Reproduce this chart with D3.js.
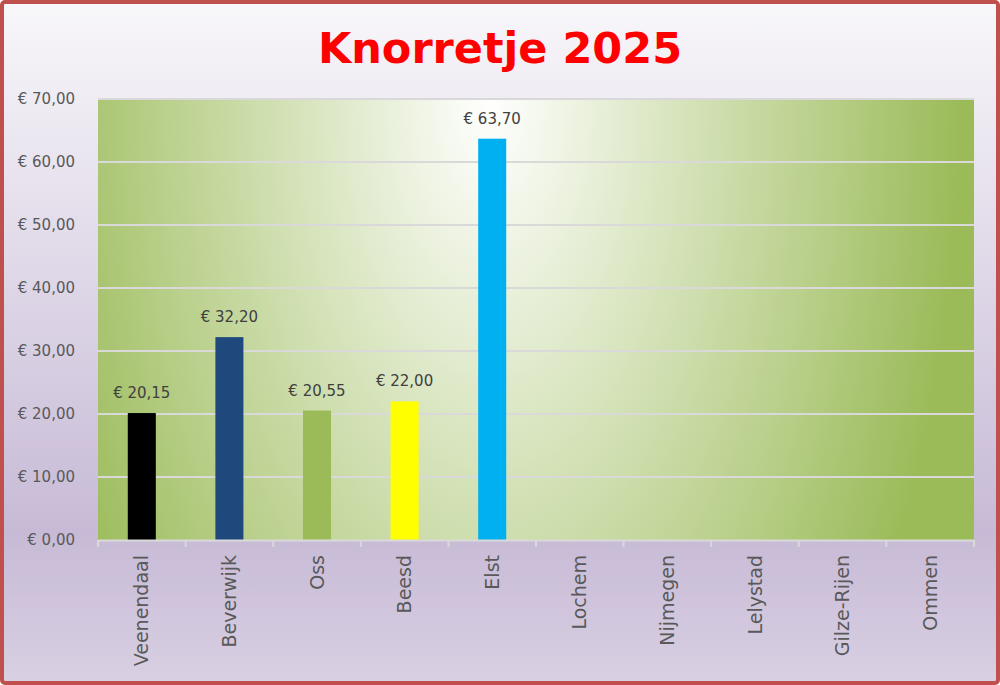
<!DOCTYPE html>
<html>
<head>
<meta charset="utf-8">
<script src="https://cdn.jsdelivr.net/npm/d3@7"></script>
<style>
  html, body { margin: 0; padding: 0; background: #fff; }
  svg { display: block; font-family: "DejaVu Sans", sans-serif; }
</style>
</head>
<body>
<svg width="1000" height="685"></svg>
<script>
var cities = ["Veenendaal", "Beverwijk", "Oss", "Beesd", "Elst", "Lochem", "Nijmegen", "Lelystad", "Gilze-Rijen", "Ommen"];
var amounts = [20.15, 32.20, 20.55, 22.00, 63.70, null, null, null, null, null];
var barColors = ["#000000", "#1f497d", "#9bbb59", "#ffff00", "#00b0f0", "#4f81bd", "#4f81bd", "#4f81bd", "#4f81bd", "#4f81bd"];
var yTicks = [0, 10, 20, 30, 40, 50, 60, 70];
var title = "Knorretje 2025";

var svg = d3.select("svg")
    , width = +svg.attr("width")
    , height = +svg.attr("height")
    , plot = {left: 98, right: 974, top: 99, bottom: 540};

var nl = d3.formatLocale({decimal: ",", thousands: ".", grouping: [3], currency: ["€ ", ""]});
var euro = nl.format("$.2f");

var defs = svg.append("defs");
var bg = defs.append("linearGradient").attr("id", "bg").attr("x1", 0).attr("y1", 0).attr("x2", 0).attr("y2", 1);
bg.append("stop").attr("offset", "0").attr("stop-color", "#f8f7fa");
bg.append("stop").attr("offset", "0.78").attr("stop-color", "#c7bad6");
bg.append("stop").attr("offset", "1").attr("stop-color", "#d9d0e3");

var pg = defs.append("radialGradient").attr("id", "plotbg")
    .attr("gradientUnits", "userSpaceOnUse")
    .attr("cx", 0).attr("cy", 0).attr("r", 1)
    .attr("gradientTransform", "translate(490," + plot.top + ") scale(470,900)");
pg.append("stop").attr("offset", "0").attr("stop-color", "#ffffff");
pg.append("stop").attr("offset", "1").attr("stop-color", "#9bbb59");

// background + border
svg.append("rect").attr("x", 2).attr("y", 2).attr("width", width - 4).attr("height", height - 4)
    .attr("rx", 3).attr("fill", "url(#bg)").attr("stroke", "#c0504d").attr("stroke-width", 4);

svg.append("text").attr("x", width / 2).attr("y", 63).attr("text-anchor", "middle")
    .attr("font-size", 43).attr("font-weight", "bold").attr("fill", "#ff0000").text(title);

var x = d3.scaleBand().domain(cities).range([plot.left, plot.right]).padding(0);
var y = d3.scaleLinear().domain([0, 70]).range([plot.bottom, plot.top]);

svg.append("rect").attr("x", plot.left).attr("y", plot.top)
    .attr("width", plot.right - plot.left).attr("height", plot.bottom - plot.top)
    .attr("fill", "url(#plotbg)");

// gridlines
svg.append("g").selectAll("line").data(yTicks.filter(function (d) { return d > 0; })).enter().append("line")
    .attr("x1", plot.left).attr("x2", plot.right)
    .attr("y1", function (d) { return y(d); }).attr("y2", function (d) { return y(d); })
    .attr("stroke", "#d9d9d9").attr("stroke-width", 2);

// y axis
var yAxis = svg.append("g").attr("transform", "translate(" + plot.left + ",0)")
    .call(d3.axisLeft(y).tickValues(yTicks).tickFormat(euro).tickSize(0).tickPadding(23));
yAxis.select(".domain").remove();
yAxis.selectAll("text").attr("font-family", "DejaVu Sans").attr("font-size", 15).attr("fill", "#595959");

// bars
var bw = x.bandwidth() * 0.32;
var data = cities.map(function (c, i) { return {city: c, value: amounts[i], color: barColors[i]}; })
    .filter(function (d) { return d.value != null; });

svg.append("g").selectAll("rect").data(data).enter().append("rect")
    .attr("x", function (d) { return x(d.city) + (x.bandwidth() - bw) / 2; })
    .attr("width", bw)
    .attr("y", function (d) { return y(d.value); })
    .attr("height", function (d) { return y(0) - y(d.value); })
    .attr("fill", function (d) { return d.color; });

svg.append("g").selectAll("text").data(data).enter().append("text")
    .attr("x", function (d) { return x(d.city) + x.bandwidth() / 2; })
    .attr("y", function (d) { return y(d.value) - 15; })
    .attr("text-anchor", "middle").attr("font-size", 15).attr("fill", "#404040")
    .text(function (d) { return euro(d.value); });

// x axis
var xAxis = svg.append("g").attr("transform", "translate(0," + plot.bottom + ")")
    .call(d3.axisBottom(x).tickSize(0).tickPadding(0));
xAxis.select(".domain").attr("stroke", "#d9d9d9").attr("stroke-width", 2);
xAxis.selectAll("text")
    .attr("font-family", "DejaVu Sans").attr("font-size", 19).attr("fill", "#595959")
    .attr("text-anchor", "end")
    .attr("transform", "translate(0,15) rotate(-90)")
    .attr("x", 0).attr("y", 0).attr("dy", "0.35em");

var edges = cities.map(function (c) { return x(c); }).concat([plot.right]);
svg.append("g").selectAll("line").data(edges).enter().append("line")
    .attr("x1", function (d) { return d; }).attr("x2", function (d) { return d; })
    .attr("y1", plot.bottom).attr("y2", plot.bottom + 7)
    .attr("stroke", "#d9d9d9").attr("stroke-width", 2);
</script>
</body>
</html>
